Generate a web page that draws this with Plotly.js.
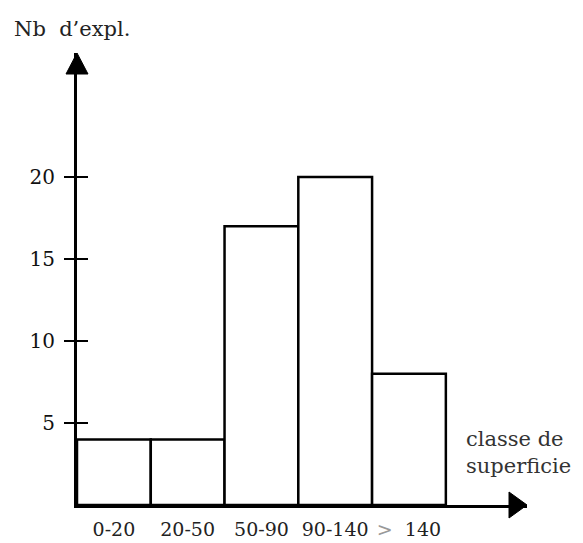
<!DOCTYPE html>
<html>
<head>
<meta charset="utf-8">
<script src="https://cdn.plot.ly/plotly-3.0.1.min.js"></script>
<style>html,body{margin:0;padding:0;background:#fff;}#chart{width:583px;height:543px;}</style>
</head>
<body>
<div id="chart"></div>
<script>
var categories = ["0-20", "20-50", "50-90", "90-140", "> 140"];
var counts = [4, 4, 17, 20, 8];
var yTicks = [5, 10, 15, 20];
var yTitle = "Nb  d\u2019expl.";
var xTitle = "classe de<br>superficie";

var FONT = "DejaVu Serif, Liberation Serif, serif";
var tickText = categories.map(function (c) {
  return c.replace(">", "<span style='color:#999'>&gt;</span> ");
});

var data = [
  {
    type: "bar",
    x: categories,
    y: counts,
    marker: { color: "#ffffff", line: { color: "#000000", width: 2.5 } },
    hoverinfo: "skip"
  },
  { type: "scatter", x: [], y: [], yaxis: "y2", hoverinfo: "skip", showlegend: false }
];

var layout = {
  width: 583,
  height: 543,
  margin: { l: 77, r: 56, t: 53, b: 38 },
  paper_bgcolor: "#ffffff",
  plot_bgcolor: "#ffffff",
  showlegend: false,
  bargap: 0,
  font: { family: FONT, color: "#111", size: 18 },
  xaxis: {
    type: "category",
    range: [-0.5, 5.6],
    showline: true,
    linecolor: "#000",
    linewidth: 3,
    showgrid: false,
    zeroline: false,
    ticks: "",
    tickvals: categories,
    ticktext: tickText,
    ticklabelstandoff: 5,
    tickfont: { family: FONT, size: 19, color: "#222" },
    fixedrange: true
  },
  yaxis: {
    range: [0, 27.56],
    showline: true,
    linecolor: "#000",
    linewidth: 3,
    showgrid: false,
    zeroline: false,
    ticks: "outside",
    ticklen: 10,
    tickwidth: 2,
    tickcolor: "#000",
    tickvals: yTicks,
    ticktext: yTicks.map(String),
    ticklabelstandoff: 5,
    tickfont: { family: FONT, size: 20, color: "#111" },
    fixedrange: true
  },
  yaxis2: {
    overlaying: "y",
    matches: "y",
    anchor: "x",
    side: "left",
    showline: false,
    showgrid: false,
    zeroline: false,
    ticks: "inside",
    ticklen: 11,
    tickwidth: 2,
    tickcolor: "#000",
    tickvals: yTicks,
    showticklabels: false,
    fixedrange: true
  },
  shapes: [
    {
      type: "path", xref: "paper", yref: "paper",
      xsizemode: "pixel", ysizemode: "pixel", xanchor: 0, yanchor: 1,
      path: "M0,0 L-11,-21 L11,-21 Z",
      fillcolor: "#000", line: { color: "#000", width: 1 }
    },
    {
      type: "path", xref: "paper", yref: "paper",
      xsizemode: "pixel", ysizemode: "pixel", xanchor: 1, yanchor: 0,
      path: "M0,0 L-18,13 L-18,-13 Z",
      fillcolor: "#000", line: { color: "#000", width: 1 }
    }
  ],
  annotations: [
    {
      text: yTitle, xref: "paper", yref: "paper",
      x: -0.144, y: 1.053, xanchor: "left", yanchor: "middle",
      showarrow: false, font: { family: FONT, size: 21, color: "#222" }
    },
    {
      text: xTitle, xref: "paper", yref: "paper",
      x: 0.86, y: 0.117, xanchor: "left", yanchor: "middle", align: "left",
      showarrow: false, font: { family: FONT, size: 21, color: "#333" }
    }
  ]
};

Plotly.newPlot("chart", data, layout, { staticPlot: true, displayModeBar: false });
</script>
</body>
</html>
